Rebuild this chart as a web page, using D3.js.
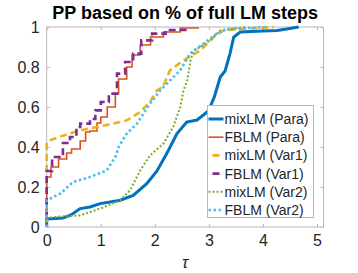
<!DOCTYPE html>
<html>
<head>
<meta charset="utf-8">
<script src="https://cdn.jsdelivr.net/npm/d3@7"></script>
<style>
  body { margin: 0; background: #fff; }
  text { font-family: "Liberation Sans", Arial, sans-serif; fill: #262626; }
</style>
</head>
<body>
<div id="chart"></div>
<script>
// Define svgWidth and svgHeight
var svgWidth = 358;
var svgHeight = 273;

// Plot box
var margin = { top: 27, bottom: 46, right: 34.5, left: 46.7 };
var width = svgWidth - margin.left - margin.right;
var height = svgHeight - margin.top - margin.bottom;

// Tick labels
var xTicks = [0, 1, 2, 3, 4, 5];
var yTicks = [0, 0.2, 0.4, 0.6, 0.8, 1];

// Series names
var names = ["mixLM (Para)", "FBLM (Para)", "mixLM (Var1)", "FBLM (Var1)", "mixLM (Var2)", "FBLM (Var2)"];

// Series values: [tau, fraction]
var mixPara = [[0,0],[0,0.04],[0.3,0.045],[0.45,0.06],[0.62,0.092],[0.8,0.1],[0.99,0.117],[1.36,0.134],
  [1.6,0.158],[1.85,0.217],[2.04,0.28],[2.22,0.367],[2.34,0.43],[2.41,0.467],[2.59,0.525],[2.78,0.535],
  [2.9,0.56],[2.99,0.58],[3.1,0.65],[3.21,0.75],[3.3,0.78],[3.39,0.867],[3.46,0.95],[3.58,0.975],
  [4.0,0.98],[4.26,0.983],[4.44,0.99],[4.66,1.0]];
var fbPara = [[0,0],[0,0.25],[0.08,0.3],[0.22,0.34],[0.37,0.37],[0.46,0.39],[0.62,0.43],[0.72,0.475],
  [0.8,0.48],[0.93,0.52],[1.0,0.55],[1.12,0.6],[1.27,0.667],[1.33,0.74],[1.48,0.8],[1.58,0.86],
  [1.73,0.91],[1.92,0.95],[2.16,0.975],[2.47,0.995],[2.8,1.0]];
var mixVar1 = [[0,0],[0,0.42],[0.06,0.433],[0.31,0.458],[0.62,0.483],[0.93,0.5],[1.23,0.517],[1.48,0.533],
  [1.73,0.575],[1.91,0.625],[2.04,0.683],[2.15,0.7],[2.28,0.783],[2.53,0.833],[2.84,0.883],[3.09,0.95],
  [3.27,0.983],[3.6,0.99],[4.2,1.0]];
var fbVar1 = [[0,0],[0,0.28],[0.1,0.35],[0.3,0.42],[0.43,0.45],[0.55,0.5],[0.62,0.517],[0.8,0.54],
  [0.9,0.583],[1.0,0.625],[1.15,0.667],[1.3,0.767],[1.45,0.825],[1.6,0.867],[1.75,0.933],[1.95,0.967],
  [2.2,0.985],[2.6,1.0]];
var mixVar2 = [[0,0],[0,0.04],[0.12,0.05],[0.62,0.058],[0.99,0.092],[1.36,0.133],[1.54,0.183],[1.73,0.283],
  [1.91,0.358],[2.16,0.417],[2.34,0.5],[2.47,0.6],[2.53,0.683],[2.6,0.733],[2.66,0.833],[2.72,0.883],
  [2.84,0.9],[3.02,0.933],[3.21,0.983],[3.7,1.0]];
var fbVar2 = [[0,0],[0,0.133],[0.25,0.167],[0.49,0.225],[0.8,0.25],[1.11,0.283],[1.27,0.35],[1.33,0.4],
  [1.48,0.467],[1.67,0.517],[1.91,0.617],[2.1,0.683],[2.16,0.7],[2.47,0.783],[2.65,0.867],[2.9,0.917],
  [3.15,0.967],[3.33,0.99],[4.07,1.0]];

// Line styles for each series
var styles = [
  { data: mixPara, color: "#0072BD", w: 3, dash: null, step: false },
  { data: fbPara, color: "#D95319", w: 1.6, dash: null, step: true },
  { data: mixVar1, color: "#EDB120", w: 2.6, dash: "7,4", step: false },
  { data: fbVar1, color: "#7E2F8E", w: 2.6, dash: "7,4", step: true },
  { data: mixVar2, color: "#77AC30", w: 2, dash: "2,2", step: false },
  { data: fbVar2, color: "#4DBEEE", w: 2.6, dash: "2.5,2.5", step: false }
];

var svg = d3.select("#chart")
  .append("svg")
  .attr("width", svgWidth)
  .attr("height", svgHeight);

var chartGroup = svg.append("g")
  .attr("transform", `translate(${margin.left}, ${margin.top})`);

// Scales
var xScale = d3.scaleLinear().domain([0, 5.12]).range([0, width]);
var yScale = d3.scaleLinear().domain([0, 1]).range([height, 0]);

// Axes with inward ticks
var bottomAxis = d3.axisBottom(xScale).tickValues(xTicks).tickSize(-3).tickPadding(8).tickFormat(d3.format("d"));
var leftAxis = d3.axisLeft(yScale).tickValues(yTicks).tickSize(-3).tickPadding(7).tickFormat(d => d === 0 || d === 1 ? d : d3.format(".1f")(d));
var topAxis = d3.axisTop(xScale).tickValues(xTicks).tickSize(-3).tickFormat("");
var rightAxis = d3.axisRight(yScale).tickValues(yTicks).tickSize(-3).tickFormat("");

function styleAxis(g) {
  g.select(".domain").attr("stroke", "#b8b8b8");
  g.selectAll(".tick line").attr("stroke", "#b8b8b8");
  g.selectAll("text").style("font-size", "16px").attr("fill", "#262626");
}

chartGroup.append("g").attr("transform", `translate(0, ${height})`).call(bottomAxis).call(styleAxis);
chartGroup.append("g").call(leftAxis).call(styleAxis);
chartGroup.append("g").call(topAxis).call(styleAxis);
chartGroup.append("g").attr("transform", `translate(${width}, 0)`).call(rightAxis).call(styleAxis);
chartGroup.selectAll(".domain").attr("d", null);
chartGroup.append("rect")
  .attr("width", width).attr("height", height)
  .attr("fill", "none").attr("stroke", "#b8b8b8");

// Curves
styles.forEach(function(s) {
  var line = d3.line()
    .x(d => xScale(d[0]))
    .y(d => yScale(d[1]))
    .curve(s.step ? d3.curveStepAfter : d3.curveLinear);
  chartGroup.append("path")
    .datum(s.data)
    .attr("d", line)
    .attr("fill", "none")
    .attr("stroke", s.color)
    .attr("stroke-width", s.w)
    .attr("stroke-dasharray", s.dash);
});

// Title
svg.append("text")
  .attr("x", margin.left + width / 2)
  .attr("y", 19)
  .attr("text-anchor", "middle")
  .style("font-size", "18px")
  .style("font-weight", "bold")
  .style("fill", "#000")
  .text("PP based on % of full LM steps");

// x-axis label
svg.append("text")
  .attr("x", margin.left + width / 2)
  .attr("y", 268)
  .attr("text-anchor", "middle")
  .style("font-size", "17px")
  .style("font-style", "italic")
  .text("τ");

// Legend
var legend = svg.append("g").attr("transform", "translate(207.5, 105.5)");
legend.append("rect")
  .attr("width", 106).attr("height", 112)
  .attr("fill", "#fff").attr("stroke", "#b8b8b8");

names.forEach(function(n, i) {
  var y = 13.5 + i * 18.2;
  legend.append("line")
    .attr("x1", 1).attr("x2", 16)
    .attr("y1", y).attr("y2", y)
    .attr("stroke", styles[i].color)
    .attr("stroke-width", styles[i].w)
    .attr("stroke-dasharray", styles[i].dash ? (styles[i].step || i === 2 ? "0,4,7,4" : styles[i].dash) : null);
  legend.append("text")
    .attr("x", 17).attr("y", y + 5)
    .style("font-size", "14px")
    .text(n);
});
</script>
</body>
</html>
